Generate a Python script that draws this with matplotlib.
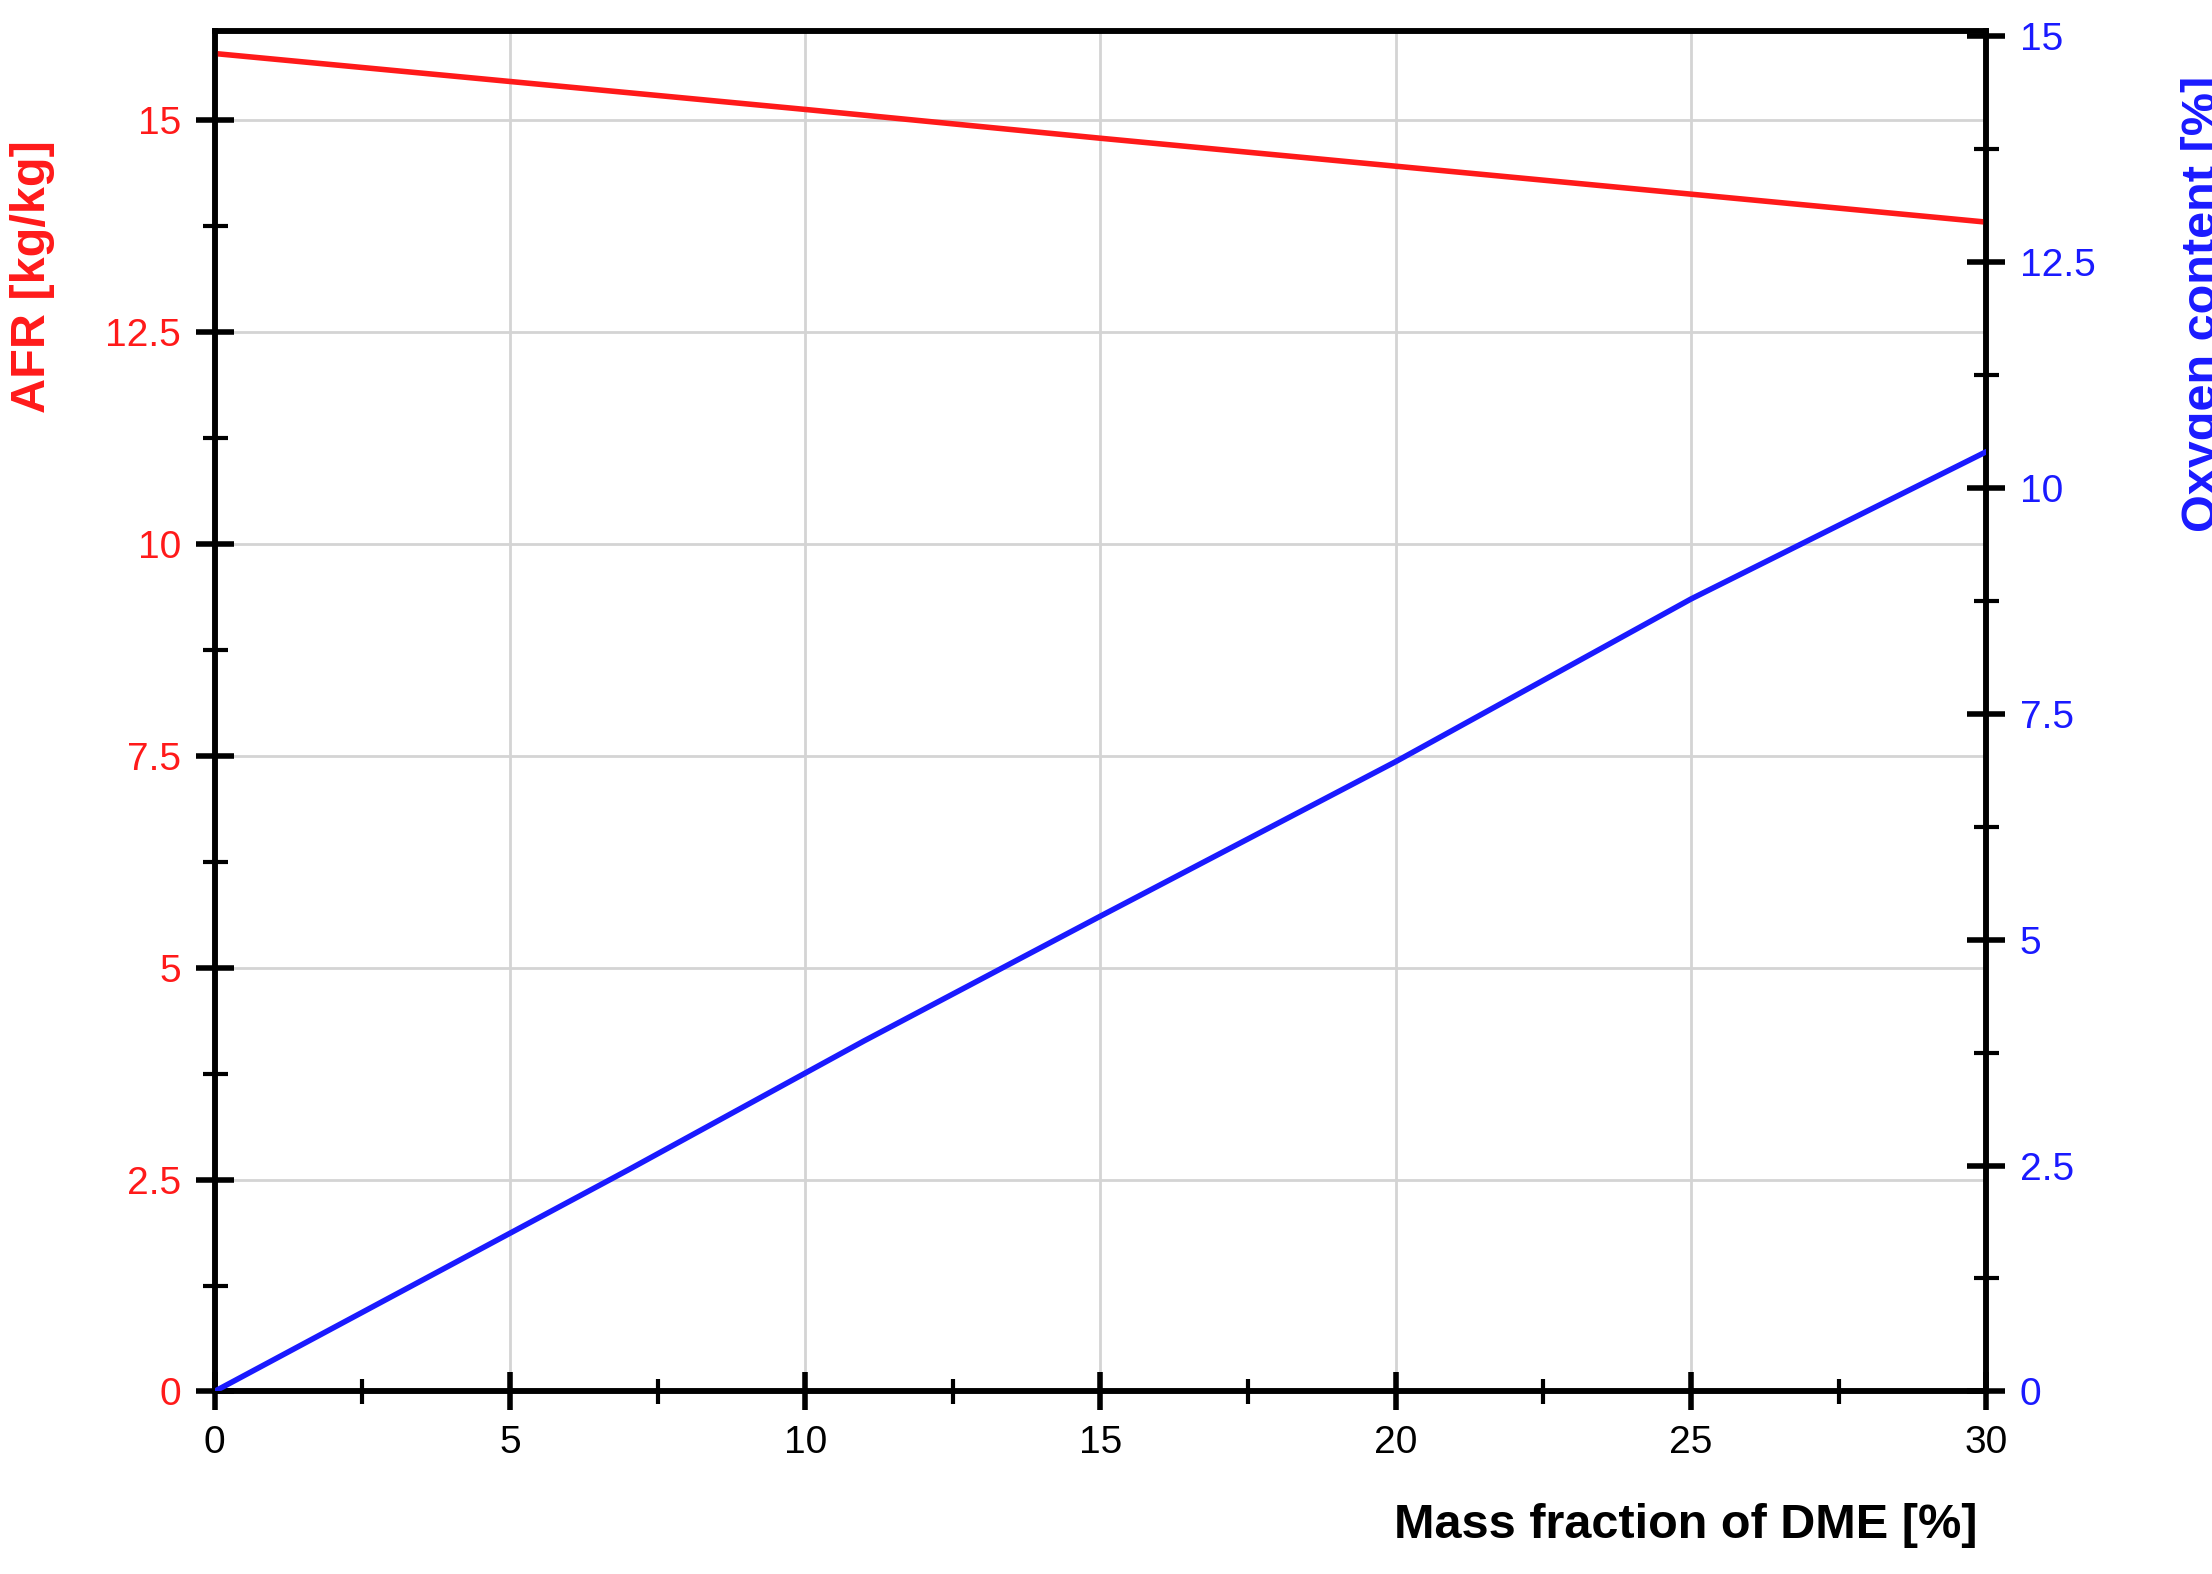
import numpy as np
import matplotlib
matplotlib.use("Agg")
import matplotlib.pyplot as plt
from matplotlib.ticker import MultipleLocator

plt.rcParams['font.family'] = ['Liberation Sans', 'DejaVu Sans']

# data
dme = [0, 5, 10, 15, 20, 25, 30]
afr = [15.79, 15.46, 15.13, 14.79, 14.46, 14.13, 13.80]
dme_o2 = [0, 7, 11, 15, 20, 25, 30]
oxygen = [0, 2.45, 3.88, 5.26, 6.97, 8.77, 10.4]

fig = plt.figure(figsize=(22.12, 15.74), dpi=100)
ax = fig.add_axes([0.097, 0.116, 0.801, 0.864])
ax2 = ax.twinx()

ax.plot(dme, afr, color='#ff1a1a', lw=4, zorder=3)
ax2.plot(dme_o2, oxygen, color='#1a1aff', lw=4, zorder=3)

ax.set_xlim(0, 30)
ax.set_ylim(0, 16.05)
ax2.set_ylim(0, 15.05)

ax.xaxis.set_major_locator(MultipleLocator(5))
ax.xaxis.set_minor_locator(MultipleLocator(2.5))
ax.yaxis.set_major_locator(MultipleLocator(2.5))
ax.yaxis.set_minor_locator(MultipleLocator(1.25))
ax2.yaxis.set_major_locator(MultipleLocator(2.5))
ax2.yaxis.set_minor_locator(MultipleLocator(1.25))

ax.grid(True, which='major', color='#d4d4d4', lw=2)
ax.set_axisbelow(True)

for a in (ax, ax2):
    for s in a.spines.values():
        s.set_linewidth(4)
    a.tick_params(which='major', direction='inout', length=28, width=4, labelsize=28, pad=10)
    a.tick_params(which='minor', direction='inout', length=18, width=3)

ax.tick_params(axis='y', labelcolor='#ff1a1a')
ax2.tick_params(axis='y', labelcolor='#1a1aff')

fmt = lambda v, p: ('%g' % v)
ax.yaxis.set_major_formatter(fmt)
ax2.yaxis.set_major_formatter(fmt)

ax.set_ylabel('AFR [kg/kg]', color='#ff1a1a', fontsize=35, fontweight='bold')
ax.yaxis.set_label_coords(-0.09, 0.82)
ax2.set_ylabel('Oxygen content [%]', color='#1a1aff', fontsize=35, fontweight='bold')
ax2.yaxis.set_label_coords(1.11, 0.8)
ax.set_xlabel('Mass fraction of DME [%]', fontsize=35, fontweight='bold')
ax.xaxis.set_label_coords(0.995, -0.082)
ax.xaxis.label.set_horizontalalignment('right')

fig.savefig('out.png', dpi=100)
